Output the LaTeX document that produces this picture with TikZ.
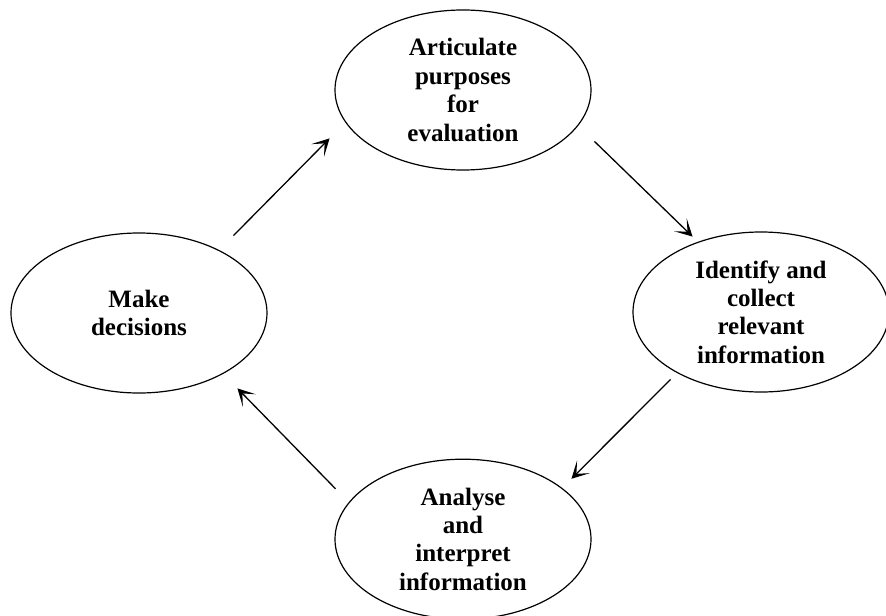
\documentclass[tikz,border=0pt]{standalone}
\usepackage{fontspec}
\setmainfont{Liberation Serif}
\usepackage{tikz}
\usetikzlibrary{positioning, shapes.geometric, arrows.meta}

\begin{document}
\begin{tikzpicture}[
                stage/.style={draw=black, line width=0.6pt, ellipse, inner sep=0pt, minimum width=128pt, minimum height=80pt, align=center, font=\fontsize{12.5pt}{14.2pt}\selectfont\bfseries},
                flow/.style={line width=0.65pt, -{Stealth[length=8.5pt, width=9pt, inset=5pt]}}
            ]
            \useasboundingbox (-231.5pt,45pt) rectangle (211.5pt,-262.5pt);

            % Ellipsen
            \node[stage] (ar) at (0,0) {Articulate\\purposes\\for\\evaluation};
            \node[stage] (id) at (149pt,-111pt) {Identify and\\collect\\relevant\\information};
            \node[stage, below=144pt of ar] (an) {Analyse\\and\\interpret\\information};
            \node[stage] (mk) at (-162pt,-111.5pt) {Make\\decisions};

            % Pfeile
            \draw[flow] ([xshift=1.75pt, yshift=10.2pt]mk.north east) -- ([xshift=-21.25pt, yshift=4.3pt]ar.south west);
            \draw[flow] ([xshift=20.25pt, yshift=2.8pt]ar.south east) -- ([xshift=11.25pt, yshift=9.2pt]id.north west);
            \draw[flow] ([xshift=0.25pt, yshift=-5.2pt]id.south west) -- ([xshift=8.75pt, yshift=1.7pt]an.north east);
            \draw[flow] ([xshift=-18.25pt, yshift=-3.3pt]an.north west) -- ([xshift=3.75pt, yshift=-9.2pt]mk.south east);

        \end{tikzpicture}
\end{document}
